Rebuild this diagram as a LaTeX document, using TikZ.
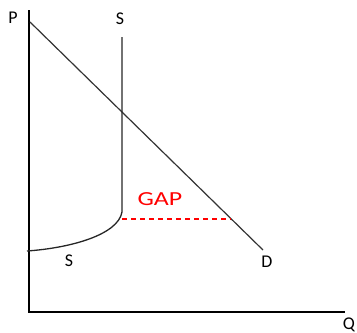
\documentclass[tikz,border=0pt]{standalone}
\usepackage{fontspec}
\setmainfont{Carlito}
\begin{document}
\begin{tikzpicture}[x=1bp,y=-1bp,
  lbl/.style={inner sep=0pt,font=\fontsize{18}{20}\selectfont},
  axisline/.style={line width=1.4bp,black},
  curveline/.style={line width=1.3bp,black!85},
  gapline/.style={red,dashed,line width=1.1bp,dash pattern=on 5bp off 4bp}]
\useasboundingbox (0,0) rectangle (357,333);
% coordinates
\coordinate (ptop) at (29,10);
\coordinate (orig) at (29,312);
\coordinate (qend) at (345,312);
\coordinate (dtop) at (30,22);
\coordinate (dend) at (263,250);
\coordinate (stop) at (122,37);
\coordinate (skink) at (122,212);
\coordinate (sleft) at (27,251);
\coordinate (gapL) at (122,219);
\coordinate (gapR) at (231,219);
% labels
\node[lbl] (P) at (13,17.5) {P};
\node[lbl] (Sup) at (120,19) {S};
\node[lbl] (Slow) at (69,261) {S};
\node[lbl] (D) at (267,261.5) {D};
\node[lbl] (Q) at (349,325) {Q};
\node[inner sep=0pt,red,font=\fontsize{20}{22}\selectfont] (GAP) at (160,199.5) {\scalebox{1.3}[1]{GAP}};
% axes
\draw[axisline] (ptop) -- (orig) -- (qend);
% demand
\draw[curveline,line width=1.2bp,black!80] (dtop) -- (dend);
% supply
\draw[curveline] (stop) -- (skink) .. controls (118,235) and (70,248) .. (sleft);
% gap
\draw[gapline] (gapL) -- (gapR);
\end{tikzpicture}
\end{document}
